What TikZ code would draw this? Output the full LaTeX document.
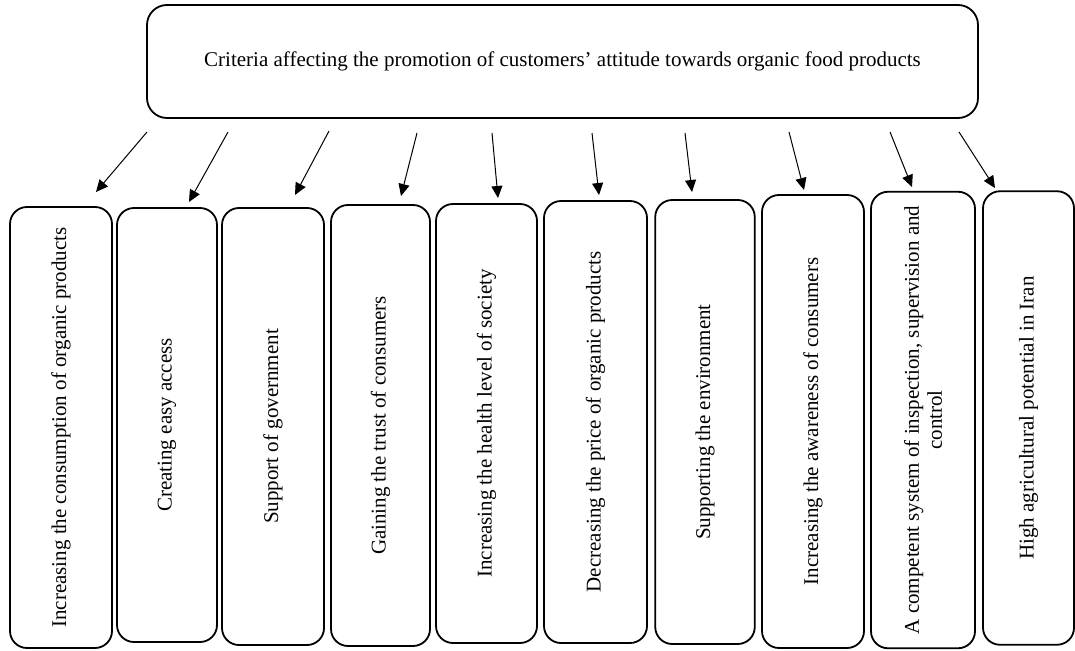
\documentclass[tikz,border=0pt]{standalone}
\usepackage{fontspec}
\setmainfont{Liberation Serif}
\usetikzlibrary{arrows.meta}
\tikzset{
  cbox/.style={draw=black, line width=1.8pt, rounded corners=17pt, inner sep=0pt, fill=white},
  topbox/.style={draw=black, line width=1.8pt, rounded corners=20pt, inner sep=0pt,
    minimum width=831pt, minimum height=113pt},
  ctext/.style={rotate=90, inner sep=0pt, align=center, font=\fontsize{21}{23}\selectfont},
  conn/.style={line width=1pt, -{Triangle[length=12pt,width=11pt]}}
}
\begin{document}
\begin{tikzpicture}[x=1pt,y=-1pt]
\useasboundingbox (0,0) rectangle (1075,650);
\node[topbox] (top) at (562.5,61.5) {};
\node[inner sep=0pt, font=\fontsize{21}{25}\selectfont] (toptext) at (562.5,61.5)
  {Criteria affecting the promotion of customers’ attitude towards organic food products};

\node[cbox, minimum width=102pt, minimum height=441pt] (b1) at (61,427.5) {};
\node[cbox, minimum width=100pt, minimum height=434pt] (b2) at (167,425) {};
\node[cbox, minimum width=102pt, minimum height=437pt] (b3) at (273,426.5) {};
\node[cbox, minimum width=99pt, minimum height=441pt] (b4) at (380.5,425.5) {};
\node[cbox, minimum width=101pt, minimum height=439pt] (b5) at (486.5,423.5) {};
\node[cbox, minimum width=103pt, minimum height=442pt] (b6) at (595.5,422) {};
\node[cbox, minimum width=99.5pt, minimum height=444pt] (b7) at (705,422) {};
\node[cbox, minimum width=102pt, minimum height=453pt] (b8) at (813,421.5) {};
\node[cbox, minimum width=104pt, minimum height=456.5pt] (b9) at (923,420) {};
\node[cbox, minimum width=91pt, minimum height=453.5pt] (b10) at (1028.5,418) {};

\node[ctext] (t1) at (b1.center) {Increasing the consumption of organic products};
\node[ctext] (t2) at (b2.center) {Creating easy access};
\node[ctext] (t3) at (b3.center) {Support of government};
\node[ctext] (t4) at (b4.center) {Gaining the trust of consumers};
\node[ctext] (t5) at (b5.center) {Increasing the health level of society};
\node[ctext] (t6) at (b6.center) {Decreasing the price of organic products};
\node[ctext] (t7) at (b7.center) {Supporting the environment};
\node[ctext] (t8) at (b8.center) {Increasing the awareness of consumers};
\node[ctext] (t9) at (b9.center) {A competent system of inspection, supervision and\\control};
\node[ctext] (t10) at (b10.center) {High agricultural potential in Iran};

\coordinate (s1) at (147,132);  \coordinate (e1) at (96,192);
\coordinate (s2) at (228,132);  \coordinate (e2) at (189,202);
\coordinate (s3) at (329,131);  \coordinate (e3) at (295,195);
\coordinate (s4) at (417,133);  \coordinate (e4) at (401,196);
\coordinate (s5) at (492,133);  \coordinate (e5) at (498,198);
\coordinate (s6) at (592,133);  \coordinate (e6) at (599,195);
\coordinate (s7) at (685,133);  \coordinate (e7) at (692,192);
\coordinate (s8) at (789,132);  \coordinate (e8) at (804,190);
\coordinate (s9) at (890,132);  \coordinate (e9) at (912,187);
\coordinate (s10) at (959,132); \coordinate (e10) at (995,188);
\foreach \i in {1,...,10} { \draw[conn] (s\i) -- (e\i); }
\end{tikzpicture}
\end{document}
